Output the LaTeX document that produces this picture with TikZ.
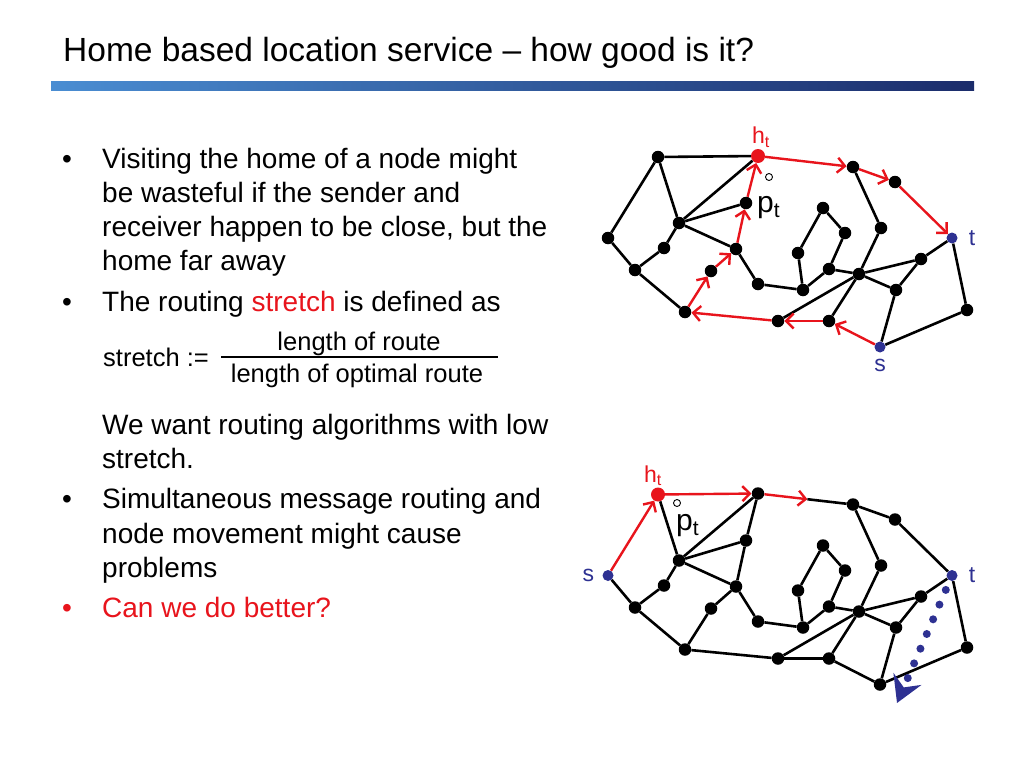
\documentclass[tikz,border=0pt]{standalone}
\usepackage{fontspec}
\setmainfont{Liberation Sans}
\usetikzlibrary{arrows.meta,positioning,calc}
\definecolor{slidered}{HTML}{E8141C}
\definecolor{slideblue}{HTML}{2E3192}
\definecolor{barlight}{HTML}{4A8DD2}
\definecolor{bardark}{HTML}{1B2C6B}

% one network, drawn twice
\newcommand{\netgraph}{%
  \foreach \n/\x/\y in {a/658/157, home/758/156, b/853/167, c/895/182,
      dst/952/238, d/967/310, src/880/347, e/829/321, f/778/321,
      g/685/312, h/635/270, i/608/238, j/679/223, k/664/248,
      l/711/271, m/736/249, n/746/203, o/758/284, p/803/290,
      q/798/253, r/823/208, u/845/233, w/829/269, x/859/274,
      v/881/228, y/921/259, z/896/290}
    \node[vtx, nd\n/.try] (\n) at (\x,\y) {};
  \foreach \from/\to in {a/j, i/h, h/k, k/j, h/g, j/home, j/n, j/m,
      m/o, o/p, p/q, q/r, r/u, u/w, w/p, w/x, x/z, b/v, v/x, x/e,
      f/x, x/y, y/dst, y/z, z/src, src/d, d/dst}
    \draw[link] (\from) -- (\to);
}

\begin{document}
\begin{tikzpicture}[
  x=1pt, y=-1pt,
  vtx/.style={circle, fill=black, inner sep=0pt, minimum size=12.5pt},
  homevtx/.style={fill=slidered, minimum size=14pt},
  endvtx/.style={fill=slideblue, minimum size=11pt},
  link/.style={line width=2.6pt},
  route/.style={-{Straight Barb[length=7.5pt,width=15pt]}, line width=2.4pt, draw=slidered},
  walk/.style={-{Stealth[length=26pt,width=30pt,inset=9pt]}, draw=slideblue, line width=8pt,
               line cap=round, dash pattern=on 0pt off 16pt, dash phase=6pt},
  lbl/.style={inner sep=0pt, font=\fontsize{23}{23}\selectfont},
  ptlbl/.style={inner sep=0pt, anchor=base west, font=\fontsize{30}{30}\selectfont},
  posmark/.style={circle, draw, line width=0.9pt, inner sep=0pt, minimum size=7pt},
  body/.style={anchor=base west, inner sep=0pt, font=\fontsize{28}{34}\selectfont},
  frac/.style={inner sep=0pt, font=\fontsize{25.5}{30}\selectfont},
]
\useasboundingbox (0,0) rectangle (1024,768);
\fill[white] (0,0) rectangle (1024,768);

% Title
\node[anchor=base west, inner sep=0pt, font=\fontsize{33.5}{40}\selectfont] (title) at (63,62)
  {Home based location service -- how good is it?};
\shade[left color=barlight, right color=bardark] (51,81) rectangle (974,90);

% Bullets
\node[body] (b1) at (62,168) {•};
\node[body] (t1) at (102,168) {Visiting the home of a node might};
\node[body] (t2) at (102,202) {be wasteful if the sender and};
\node[body] (t3) at (102,236) {receiver happen to be close, but the};
\node[body] (t4) at (102,270) {home far away};
\node[body] (b2) at (62,311) {•};
\node[body] (t5) at (102,311) {The routing {\color{slidered}stretch} is defined as};
\node[frac, anchor=base west] (lhs) at (103,366) {stretch :=};
\node[frac, anchor=base] (num) at (359,350) {length of route};
\node[frac, anchor=base] (den) at (357,382) {length of optimal route};
\draw[line width=2.5pt] (221,357) -- (498,357);
\node[body] (t6) at (102,434) {We want routing algorithms with low};
\node[body] (t7) at (102,468) {stretch.};
\node[body] (b3) at (62,508) {•};
\node[body] (t8) at (102,508) {Simultaneous message routing and};
\node[body] (t9) at (102,543) {node movement might cause};
\node[body] (t10) at (102,577) {problems};
\node[body, text=slidered] (b4) at (62,617) {•};
\node[body, text=slidered] (t11) at (102,617) {Can we do better?};

% Upper network: route via the home
\begin{scope}[name prefix=top-, ndhome/.style=homevtx, ndsrc/.style=endvtx, nddst/.style=endvtx]
  \netgraph
  \draw[link] (a) -- (home);
  \draw[link] (a) -- (i);
  \foreach \from/\to in {src/e, e/f, f/g, g/l, l/m, m/n, n/home, home/b, b/c, c/dst}
    \draw[route] (\from) -- (\to);
  \node[lbl, text=slidered, above=1pt of home, xshift=3pt] (htlbl) {h\textsubscript{t}};
  \node[posmark] (pt) at (769,177) {};
  \node[ptlbl] (ptlbl) at (757,212) {p\textsubscript{t}};
  \node[lbl, text=slideblue, right=11pt of dst] (tlbl) {t};
  \node[lbl, text=slideblue, below=6pt of src] (slbl) {s};
\end{scope}

% Lower network: source next to the home
\begin{scope}[yshift=-337.5pt, name prefix=bot-, nda/.style=homevtx, ndi/.style=endvtx, nddst/.style=endvtx]
  \netgraph
  \foreach \from/\to in {src/e, e/f, f/g, g/l, l/m, m/n, n/home, b/c, c/dst}
    \draw[link] (\from) -- (\to);
  \coordinate (mid) at ($(home)!0.52!(b)$);
  \draw[route] (i) -- (a);
  \draw[route] (a) -- (home);
  \draw[route] (home) -- (mid);
  \draw[link] (mid) -- (b);
  \coordinate (tipend) at (897,365.5);
  \draw[walk] (dst) -- (tipend);
  \node[lbl, text=slidered, above=1pt of a, xshift=-5pt] (htlbl) {h\textsubscript{t}};
  \node[posmark] (pt) at (677,165.5) {};
  \node[ptlbl] (ptlbl) at (676,193) {p\textsubscript{t}};
  \node[lbl, text=slideblue, right=11pt of dst] (tlbl) {t};
  \node[lbl, text=slideblue, left=8pt of i] (slbl) {s};
\end{scope}
\end{tikzpicture}
\end{document}
